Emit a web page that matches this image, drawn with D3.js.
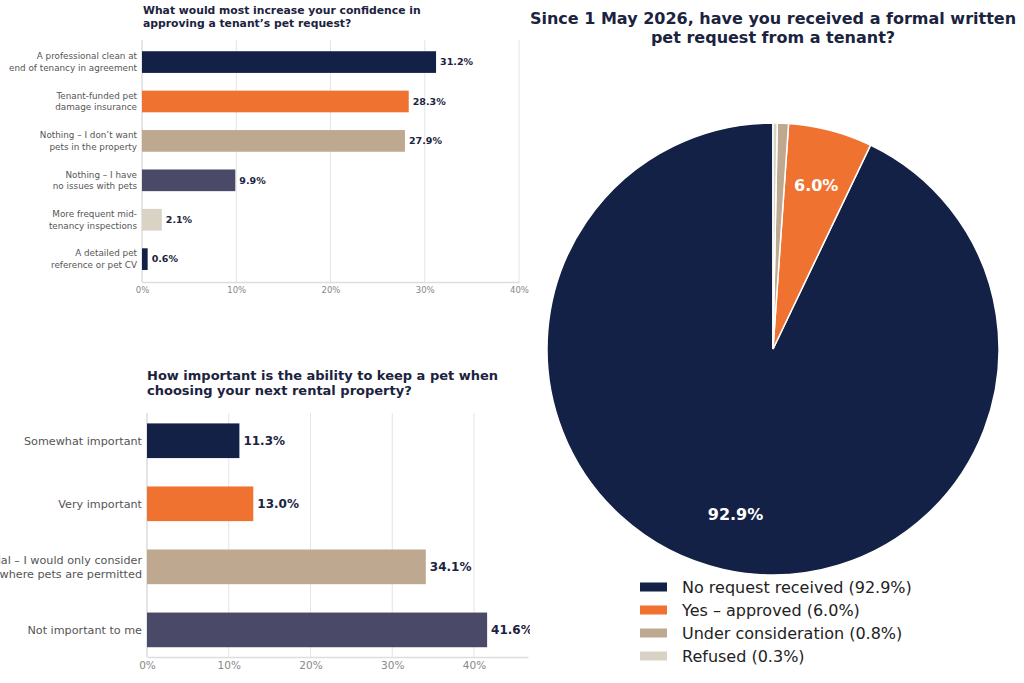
<!DOCTYPE html>
<html>
<head>
<meta charset="utf-8">
<script src="https://cdn.jsdelivr.net/npm/d3@7"></script>
<style>
  body { margin: 0; background: #fff; }
  svg { display: block; font-family: "DejaVu Sans", sans-serif; }
</style>
</head>
<body>
<svg width="1024" height="683"></svg>
<script>
// top-left bar chart
const confCats = [
  ["A professional clean at", "end of tenancy in agreement"],
  ["Tenant-funded pet", "damage insurance"],
  ["Nothing \u2013 I don\u2019t want", "pets in the property"],
  ["Nothing \u2013 I have", "no issues with pets"],
  ["More frequent mid-", "tenancy inspections"],
  ["A detailed pet", "reference or pet CV"]
];
const confValues = [31.2, 28.3, 27.9, 9.9, 2.1, 0.6];

// bottom-left bar chart
const impCats = [
  ["Somewhat important"],
  ["Very important"],
  ["Essential \u2013 I would only consider", "properties where pets are permitted"],
  ["Not important to me"]
];
const impValues = [11.3, 13.0, 34.1, 41.6];

// pie
const pieLabels = ["No request received", "Yes \u2013 approved", "Under consideration", "Refused"];
const pieValues = [92.9, 6.0, 0.8, 0.3];

const xTicks = [0, 10, 20, 30, 40];

const navy = "#142146", orange = "#f07231", beige = "#bea88f", slate = "#4a4a68", light = "#d9d3c6";
const barColors = [navy, orange, beige, slate, light, navy];
const impColors = [navy, orange, beige, slate];
const pieColors = [navy, orange, beige, light];

const svg = d3.select("svg");

const drawBars = (g, cats, values, colors, o) => {
  const x = d3.scaleLinear().domain([0, o.xMax]).range([o.left, o.right]);
  const y = d3.scaleLinear().domain(o.yDomain).range([o.top, o.bottom]);
  const step = Math.abs(y(1) - y(0));
  const bh = step * 0.55;

  // grid
  g.append("g").selectAll("line")
    .data(xTicks.filter(t => t > 0))
    .join("line")
      .attr("x1", d => x(d)).attr("x2", d => x(d))
      .attr("y1", o.top).attr("y2", o.bottom)
      .attr("stroke", "#e4e4e4").attr("stroke-width", 1);

  g.append("g")
    .attr("transform", `translate(0,${o.bottom})`)
    .call(d3.axisBottom(x).tickValues(xTicks).tickFormat(d => d + "%").tickSize(0).tickPadding(o.tickPad))
    .call(a => a.select(".domain").attr("stroke", "#dddddd").attr("stroke-width", 1.5))
    .call(a => a.selectAll("text").attr("fill", "#888").attr("font-size", o.tickFont).attr("font-family", "DejaVu Sans"));

  g.append("line")
    .attr("x1", o.left).attr("x2", o.left)
    .attr("y1", o.top).attr("y2", o.bottom)
    .attr("stroke", "#dddddd").attr("stroke-width", 1.5);

  g.append("g").selectAll("rect")
    .data(values)
    .join("rect")
      .attr("x", x(0))
      .attr("y", (d, i) => y(i) - bh / 2)
      .attr("width", d => x(d) - x(0))
      .attr("height", bh)
      .attr("fill", (d, i) => colors[i]);

  g.append("g").selectAll("text")
    .data(values)
    .join("text")
      .attr("x", d => x(d) + o.valPad)
      .attr("y", (d, i) => y(i))
      .attr("dy", "0.35em")
      .attr("font-size", o.valFont)
      .attr("font-weight", "bold")
      .attr("fill", "#1b2340")
      .text(d => d.toFixed(1) + "%");

  const lab = g.append("g").selectAll("text")
    .data(cats)
    .join("text")
      .attr("text-anchor", "end")
      .attr("font-size", o.catFont)
      .attr("fill", "#555");
  lab.each(function (lines, i) {
    const n = lines.length;
    d3.select(this).selectAll("tspan")
      .data(lines)
      .join("tspan")
        .attr("x", o.left - 5)
        .attr("y", (l, j) => y(i) + (j - (n - 1) / 2) * o.lineH)
        .attr("dy", "0.35em")
        .text(l => l);
  });

  const t = g.append("text")
    .attr("font-size", o.titleFont)
    .attr("font-weight", "bold")
    .attr("fill", "#1b2340");
  t.selectAll("tspan")
    .data(o.title)
    .join("tspan")
      .attr("x", o.titleX)
      .attr("y", (l, j) => o.titleY + j * o.titleLineH)
      .text(l => l);
};

drawBars(svg.append("g"), confCats, confValues, barColors, {
  left: 142, right: 519, xMax: 40, top: 40, bottom: 282,
  yDomain: [-0.56, 5.58], tickPad: 5, tickFont: 8.5, valFont: 9.5, valPad: 4,
  catFont: 8.8, lineH: 11.5,
  title: ["What would most increase your confidence in", "approving a tenant\u2019s pet request?"],
  titleX: 143, titleY: 14, titleLineH: 12.5, titleFont: 10.8
});

svg.append("defs").append("clipPath").attr("id", "clipB")
  .append("rect").attr("x", 0).attr("y", 350).attr("width", 530).attr("height", 333);

drawBars(svg.append("g").attr("clip-path", "url(#clipB)"), impCats, impValues, impColors, {
  left: 147, right: 528, xMax: 46.6, top: 413, bottom: 657,
  yDomain: [-0.44, 3.43], tickPad: 5, tickFont: 10.5, valFont: 12, valPad: 4,
  catFont: 11.2, lineH: 13.5,
  title: ["How important is the ability to keep a pet when", "choosing your next rental property?"],
  titleX: 147, titleY: 380, titleLineH: 15, titleFont: 13
});

// pie chart
const cx = 773, cy = 349, R = 226;
const pg = svg.append("g").attr("transform", `translate(${cx},${cy})`);
const pie = d3.pie().sort(null).startAngle(0).endAngle(-2 * Math.PI);
const arcs = pie(pieValues);
const arc = d3.arc().innerRadius(0).outerRadius(R);
const labelArc = d3.arc().innerRadius(R * 0.75).outerRadius(R * 0.75);

pg.selectAll("path")
  .data(arcs)
  .join("path")
    .attr("d", arc)
    .attr("fill", (d, i) => pieColors[i])
    .attr("stroke", "#fff")
    .attr("stroke-width", 1.5);

pg.selectAll("text.pct")
  .data(arcs.filter(d => d.data >= 1))
  .join("text")
    .attr("class", "pct")
    .attr("transform", d => `translate(${labelArc.centroid(d)})`)
    .attr("text-anchor", "middle")
    .attr("dy", "0.35em")
    .attr("font-size", 16)
    .attr("font-weight", "bold")
    .attr("fill", "#fff")
    .text(d => d.data.toFixed(1) + "%");

const pt = svg.append("text")
  .attr("text-anchor", "middle")
  .attr("font-size", 16)
  .attr("font-weight", "bold")
  .attr("fill", "#1b2340");
pt.selectAll("tspan")
  .data(["Since 1 May 2026, have you received a formal written", "pet request from a tenant?"])
  .join("tspan")
    .attr("x", cx)
    .attr("y", (l, j) => 24 + j * 19)
    .text(l => l);

const leg = svg.append("g").selectAll("g")
  .data(pieLabels)
  .join("g")
    .attr("transform", (d, i) => `translate(640,${587 + i * 23})`);
leg.append("rect")
  .attr("x", 0).attr("y", -4.5)
  .attr("width", 27).attr("height", 9)
  .attr("fill", (d, i) => pieColors[i]);
leg.append("text")
  .attr("x", 42)
  .attr("dy", "0.35em")
  .attr("font-size", 16)
  .attr("fill", "#222")
  .text((d, i) => `${d} (${pieValues[i].toFixed(1)}%)`);
</script>
</body>
</html>
